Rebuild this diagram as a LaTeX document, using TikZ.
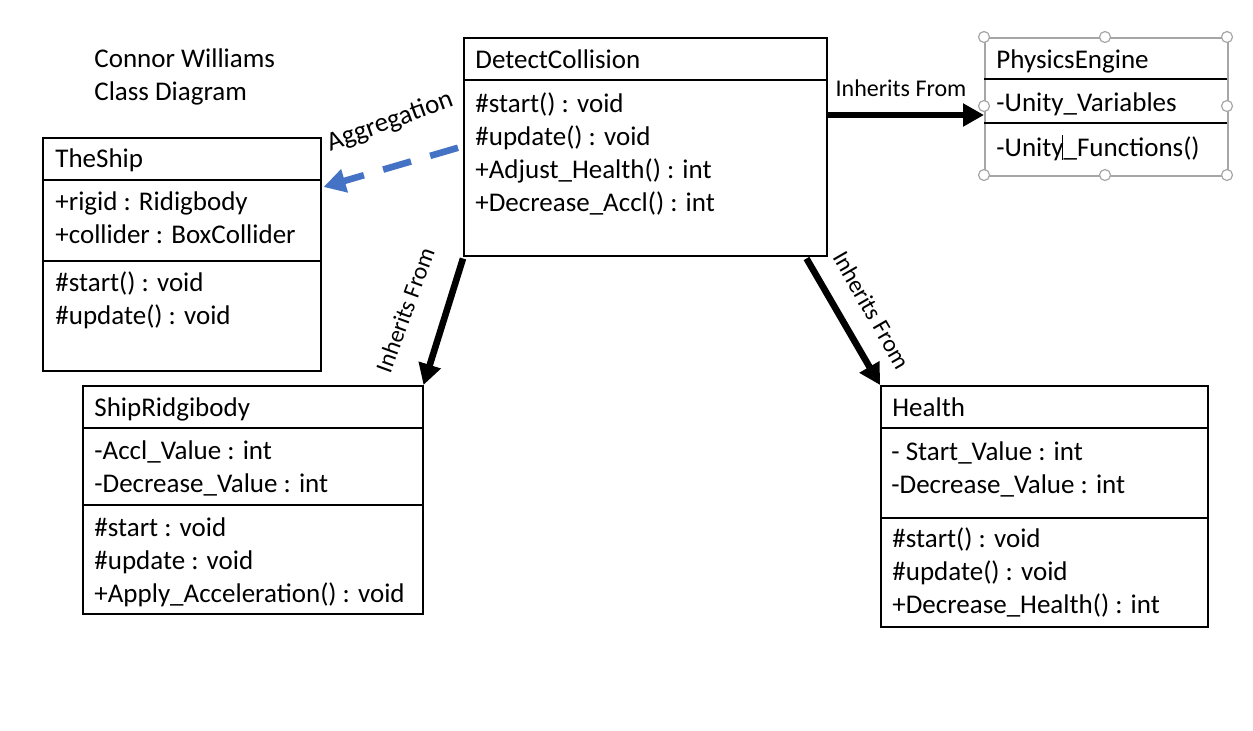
\documentclass[tikz,border=0pt]{standalone}
\usepackage{fontspec}
\setmainfont{Carlito}
\usetikzlibrary{arrows.meta}
\usetikzlibrary{positioning}
\usetikzlibrary{calc}
\definecolor{aggBlue}{HTML}{4472C4}
\definecolor{selGray}{HTML}{A6A6A6}

\begin{document}
\begin{tikzpicture}[
        x=0.5pt, y=-0.5pt,
        classS/.style={
            draw=black,
            line width=0.75pt,
            anchor=north west,
            inner sep=0pt
        },
        textS/.style={
            anchor=base west,
            align=left,
            inner sep=0pt,
            font=\fontsize{13.5}{16.4}\selectfont
        },
        labelS/.style={
            inner sep=1pt,
            font=\fontsize{12}{14}\selectfont
        },
        lineS/.style={line width=0.75pt},
        inhS/.style={
            line width=3.3pt,
            -{Triangle[length=10.5pt,width=11pt]}
        },
        aggS/.style={
            aggBlue,
            line width=3.3pt,
            dash pattern=on 14.5pt off 10pt,
            -{Triangle[length=11pt,width=11.5pt]}
        },
        handleS/.style={
            circle,
            draw=selGray,
            fill=white,
            line width=0.6pt,
            minimum size=5.5pt,
            inner sep=0pt
        },
    ]
    \useasboundingbox (0,0) rectangle (1253,730);

    % multi-line nodes sit on the baseline of their last line
    \node[textS] (title) at (94,100) {Connor Williams\\Class Diagram};

    % class boxes
    \node[classS, minimum width=181.5pt, minimum height=109pt] (DC) at (463,37) {};
    \node[classS, draw=selGray, minimum width=121.5pt, minimum height=69pt] (PE) at (984,37) {};
    \node[classS, minimum width=139pt, minimum height=116.5pt] (TS) at (42,137) {};
    \node[classS, minimum width=170pt, minimum height=114pt] (SR) at (82,385) {};
    \node[classS, minimum width=163.5pt, minimum height=120.5pt] (HL) at (880,385) {};

    % compartments
    \draw[lineS] ($(DC.north west)+(0,43)$) -- ++(363,0);
    \draw[lineS] ($(PE.north west)+(0,42)$) -- ++(243,0);
    \draw[lineS] ($(PE.north west)+(0,86)$) -- ++(243,0);
    \draw[lineS] ($(TS.north west)+(0,43)$) -- ++(278,0);
    \draw[lineS] ($(TS.north west)+(0,124)$) -- ++(278,0);
    \draw[lineS] ($(SR.north west)+(0,43)$) -- ++(340,0);
    \draw[lineS] ($(SR.north west)+(0,120)$) -- ++(340,0);
    \draw[lineS] ($(HL.north west)+(0,43)$) -- ++(327,0);
    \draw[lineS] ($(HL.north west)+(0,133)$) -- ++(327,0);

    \node[textS] (DCname) at (475,68) {DetectCollision};
    \node[textS] (DCops) at (475,211) {\#start() : void\\\#update() : void\\+Adjust\_Health() : int\\+Decrease\_Accl() : int};

    \node[textS] (PEname) at (996,68) {PhysicsEngine};
    \node[textS] (PEattr) at (996,111) {-Unity\_Variables};
    \node[textS] (PEops) at (996,156) {-Unity\_Functions()};

    \node[textS] (TSname) at (55,167) {TheShip};
    \node[textS] (TSattr) at (55,243) {+rigid : Ridigbody\\+collider : BoxCollider};
    \node[textS] (TSops) at (55,324) {\#start() : void\\\#update() : void};

    \node[textS] (SRname) at (94,416) {ShipRidgibody};
    \node[textS] (SRattr) at (94,492) {-Accl\_Value : int\\-Decrease\_Value : int};
    \node[textS] (SRops) at (94,602) {\#start : void\\\#update : void\\+Apply\_Acceleration() : void};

    \node[textS] (HLname) at (892,416) {Health};
    \node[textS] (HLattr) at (891,493) {- Start\_Value : int\\-Decrease\_Value : int};
    \node[textS] (HLops) at (892,613) {\#start() : void\\\#update() : void\\+Decrease\_Health() : int};

    % selection handles
    \foreach \hx/\hy [count=\i] in {984/37, 1105/37, 1227/37, 984/106, 1227/106, 984/175, 1105/175, 1227/175}
        \node[handleS] (h\i) at (\hx,\hy) {};
    \draw[line width=0.5pt] (1062,135) -- (1062,160);

    % connectors
    \draw[inhS] ($(DC.north east)+(0,78)$) -- ($(PE.north west)+(0,78)$);
    \draw[inhS] ($(DC.south west)+(0,2)$) -- (SR.north east);
    \draw[inhS] ($(DC.south east)+(-21,2)$) -- (HL.north west);
    \draw[aggS] ($(DC.west)+(-5,1)$) -- ($(TS.north east)+(2,50)$);

    \node[labelS] (inhT) at (901,88) {Inherits From};
    \node[labelS, rotate=70] (inhL) at (405,310) {Inherits From};
    \node[labelS, rotate=-60] (inhR) at (872,310) {Inherits From};
    \node[labelS, font=\fontsize{13.5}{16}\selectfont, rotate=20] (aggL) at (390,122) {Aggregation};

\end{tikzpicture}
\end{document}
